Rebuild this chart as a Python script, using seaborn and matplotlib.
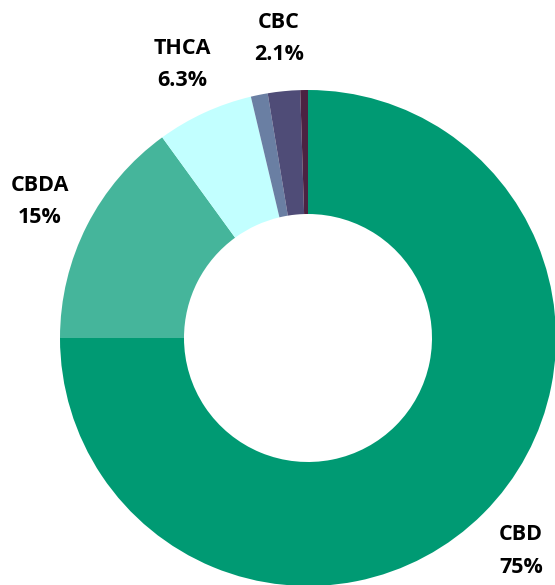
import matplotlib
matplotlib.use('Agg')
import matplotlib.pyplot as plt
import seaborn as sns

# data
names = ['CBD', 'CBDA', 'THCA', 'other1', 'CBC', 'other2']
shares = [75.0, 15.0, 6.3, 1.1, 2.1, 0.5]
pct_text = ['75%', '15%', '6.3%', '', '2.1%', '']
shown = ['CBD', 'CBDA', 'THCA', 'CBC']
colors = ['#009a73', '#45b59b', '#c2ffff', '#6a7fa3', '#4f4c77', '#4b2342']

sns.set_theme(style='white')
plt.rcParams['font.family'] = ['Open Sans', 'DejaVu Sans']

fig = plt.figure(figsize=(5.55, 5.85), dpi=100)
ax = fig.add_axes([0, 0, 1, 1])

labels = [n + '\n' + p if n in shown else '' for n, p in zip(names, pct_text)]

wedges, texts = ax.pie(shares, labels=labels, colors=colors, startangle=90,
                       counterclock=False, labeldistance=1.215,
                       wedgeprops=dict(width=0.5, linewidth=0),
                       textprops=dict(fontsize=15.5, fontweight='bold',
                                      color='black', linespacing=1.7))
for t in texts:
    t.set_horizontalalignment('center')
    t.set_verticalalignment('center')

ax.set_xlim(-308 / 248, 247 / 248)
ax.set_ylim(-247 / 248, 338 / 248)
ax.set_aspect('auto')
ax.axis('off')

plt.savefig('out.png', dpi=100)
